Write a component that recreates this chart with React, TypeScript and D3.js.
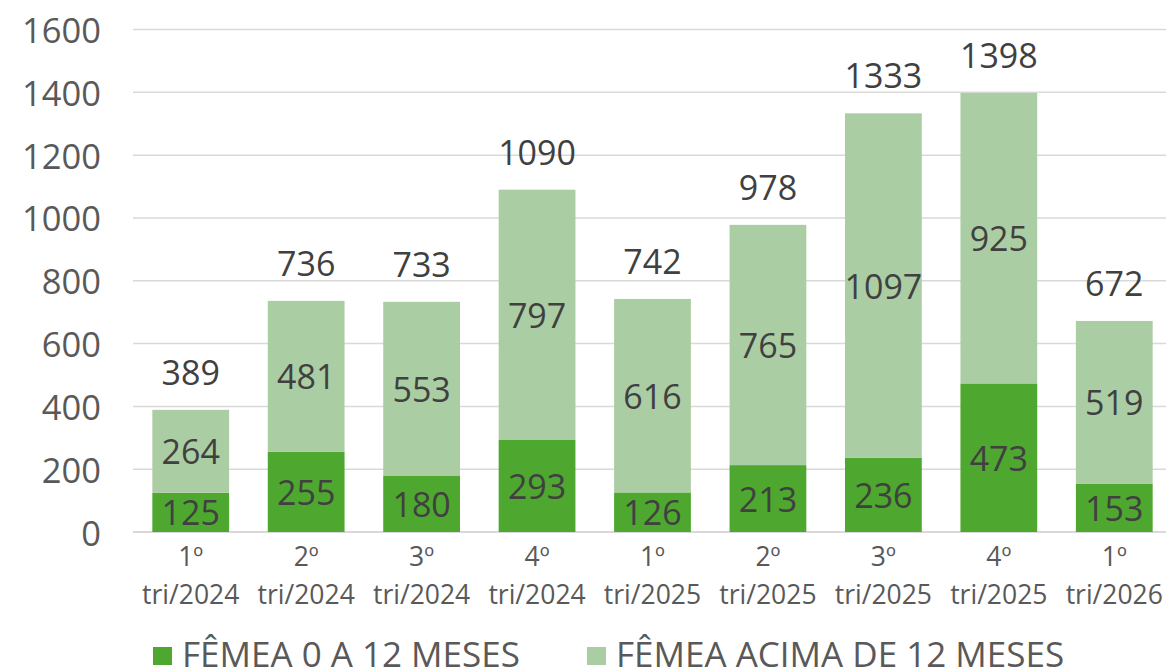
import React from "react";
import * as d3 from "d3";

const categories = [
  ["1º", "tri/2024"],
  ["2º", "tri/2024"],
  ["3º", "tri/2024"],
  ["4º", "tri/2024"],
  ["1º", "tri/2025"],
  ["2º", "tri/2025"],
  ["3º", "tri/2025"],
  ["4º", "tri/2025"],
  ["1º", "tri/2026"],
];
const young = [125, 255, 180, 293, 126, 213, 236, 473, 153];
const adult = [264, 481, 553, 797, 616, 765, 1097, 925, 519];
const totals = [389, 736, 733, 1090, 742, 978, 1333, 1398, 672];
const yTicks = [0, 200, 400, 600, 800, 1000, 1200, 1400, 1600];
const seriesNames = ["FÊMEA 0 A 12 MESES", "FÊMEA ACIMA DE 12 MESES"];

const W = 1166;
const H = 669;
const DARK = "#4ea72e";
const LIGHT = "#abcda3";
const FONT = "'Open Sans', sans-serif";

export default function App() {
  const x = d3
    .scaleBand<number>()
    .domain(d3.range(categories.length))
    .range([133, 1172])
    .paddingInner(0.335)
    .paddingOuter(0.1675);
  const y = d3.scaleLinear().domain([0, 1600]).range([532, 29.5]);
  const bw = x.bandwidth();

  return (
    <div style={{ position: "absolute", left: 0, top: 0 }}>
      <svg width={W} height={H} style={{ display: "block", fontFamily: FONT }}>
        <rect width={W} height={H} fill="#fff" />
        {yTicks.map((t) => (
          <g key={t}>
            <line
              x1={133}
              x2={W}
              y1={y(t)}
              y2={y(t)}
              stroke="#d9d9d9"
              strokeWidth={t === 0 ? 2 : 1.5}
            />
            <text
              x={101}
              y={y(t)}
              textAnchor="end"
              dominantBaseline="central"
              fontSize={34.5}
              fill="#595959"
            >
              {t}
            </text>
          </g>
        ))}
        {categories.map((c, i) => {
          const x0 = x(i)!;
          const cx = x0 + bw / 2;
          const top = young[i] + adult[i];
          return (
            <g key={i}>
              <rect x={x0} y={y(young[i])} width={bw} height={y(0) - y(young[i])} fill={DARK} />
              <rect x={x0} y={y(top)} width={bw} height={y(young[i]) - y(top)} fill={LIGHT} />
              <text
                x={cx}
                y={y(young[i] / 2)}
                textAnchor="middle"
                dominantBaseline="central"
                fontSize={34}
                fill="#404040"
              >
                {young[i]}
              </text>
              <text
                x={cx}
                y={y(young[i] + adult[i] / 2)}
                textAnchor="middle"
                dominantBaseline="central"
                fontSize={34}
                fill="#404040"
              >
                {adult[i]}
              </text>
              <text
                x={cx}
                y={y(top) - 38}
                textAnchor="middle"
                dominantBaseline="central"
                fontSize={34}
                fill="#404040"
              >
                {totals[i]}
              </text>
              <text
                x={cx}
                y={556}
                textAnchor="middle"
                dominantBaseline="central"
                fontSize={26.5}
                fill="#595959"
              >
                {c[0]}
              </text>
              <text
                x={cx}
                y={594}
                textAnchor="middle"
                dominantBaseline="central"
                fontSize={26.5}
                fill="#595959"
              >
                {c[1]}
              </text>
            </g>
          );
        })}
        {seriesNames.map((name, i) => {
          const lx = i === 0 ? 153 : 587;
          return (
            <g key={name}>
              <rect x={lx} y={647} width={19} height={18} fill={i === 0 ? DARK : LIGHT} />
              <text x={lx + 29} y={667} fontSize={35} fill="#595959">
                {name}
              </text>
            </g>
          );
        })}
      </svg>
    </div>
  );
}
